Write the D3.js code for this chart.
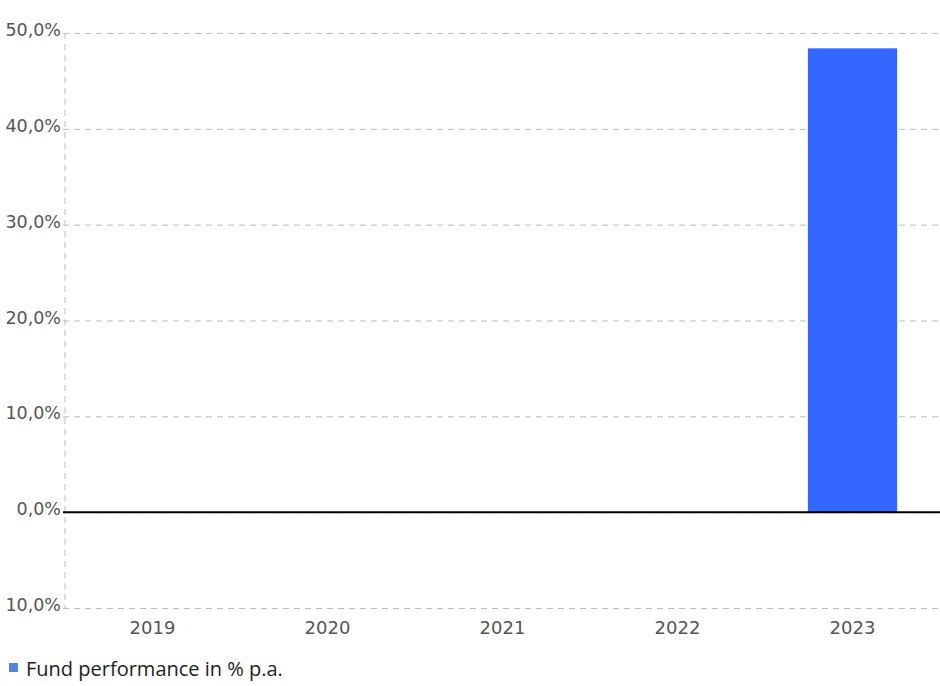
<!DOCTYPE html>
<html>
<head>
<meta charset="utf-8">
<script src="https://cdn.jsdelivr.net/npm/d3@7"></script>
<style>
  body { margin: 0; background: #fff; }
</style>
</head>
<body>
<svg width="940" height="686"></svg>
<script>
// fund performance per year, in %
var years = ["2019", "2020", "2021", "2022", "2023"];
var performance = [null, null, null, null, 48.4];
var yTicks = [-10, 0, 10, 20, 30, 40, 50];
var yTickLabels = ["10,0%", "0,0%", "10,0%", "20,0%", "30,0%", "40,0%", "50,0%"];
var legendLabel = "Fund performance in % p.a.";

var svg = d3.select("svg"),
    margin = {top: 33, right: 0, bottom: 78, left: 65},
    width = +svg.attr("width") - margin.left - margin.right,
    height = +svg.attr("height") - margin.top - margin.bottom,
    g = svg.append("g").attr("transform", "translate(" + margin.left + "," + margin.top + ")");

var x = d3.scaleBand()
    .domain(years)
    .range([0, width])
    .paddingInner(0.49)
    .paddingOuter(0.245);

var y = d3.scaleLinear()
    .domain([-10, 50])
    .range([height, 0]);

// horizontal dashed grid + left tick labels
var yAxis = g.append("g")
    .attr("transform", "translate(-2,0)")
    .call(d3.axisLeft(y)
      .tickValues(yTicks)
      .tickSize(-width - 2)
      .tickPadding(2)
      .tickFormat(function(d, i) { return yTickLabels[i]; }));

yAxis.select(".domain").remove();
yAxis.selectAll(".tick line")
    .attr("stroke", "#bbb")
    .attr("stroke-dasharray", "6,5")
    .attr("stroke-width", 1);
yAxis.selectAll(".tick text")
    .attr("fill", "#555")
    .attr("font-family", "DejaVu Sans")
    .attr("font-size", 17.5)
    .attr("dy", "0.15em");

// vertical dashed line on the left
g.append("line")
    .attr("x1", 0).attr("x2", 0)
    .attr("y1", y(50)).attr("y2", y(-10))
    .attr("stroke", "#bbb")
    .attr("stroke-dasharray", "6,5");

// x labels
var xAxis = g.append("g")
    .attr("transform", "translate(0," + height + ")")
    .call(d3.axisBottom(x).tickSize(0).tickPadding(13));
xAxis.select(".domain").remove();
xAxis.selectAll(".tick text")
    .attr("fill", "#555")
    .attr("font-family", "DejaVu Sans")
    .attr("font-size", 18);

// bars
g.selectAll(".bar")
  .data(years.map(function(d, i) { return {year: d, value: performance[i]}; })
    .filter(function(d) { return d.value != null; }))
  .enter().append("rect")
    .attr("class", "bar")
    .attr("x", function(d) { return x(d.year); })
    .attr("width", x.bandwidth())
    .attr("y", function(d) { return y(Math.max(0, d.value)); })
    .attr("height", function(d) { return Math.abs(y(d.value) - y(0)); })
    .attr("fill", "#3366ff");

// zero line
g.append("line")
    .attr("x1", -2).attr("x2", width)
    .attr("y1", y(0)).attr("y2", y(0))
    .attr("stroke", "#000")
    .attr("stroke-width", 2);

// legend
var legend = svg.append("g").attr("transform", "translate(9,663)");
legend.append("rect")
    .attr("width", 9).attr("height", 9)
    .attr("fill", "#4f86dc");
legend.append("text")
    .attr("x", 17).attr("y", 13)
    .attr("fill", "#222")
    .attr("font-family", "Open Sans")
    .attr("font-size", 20)
    .text(legendLabel);
</script>
</body>
</html>
